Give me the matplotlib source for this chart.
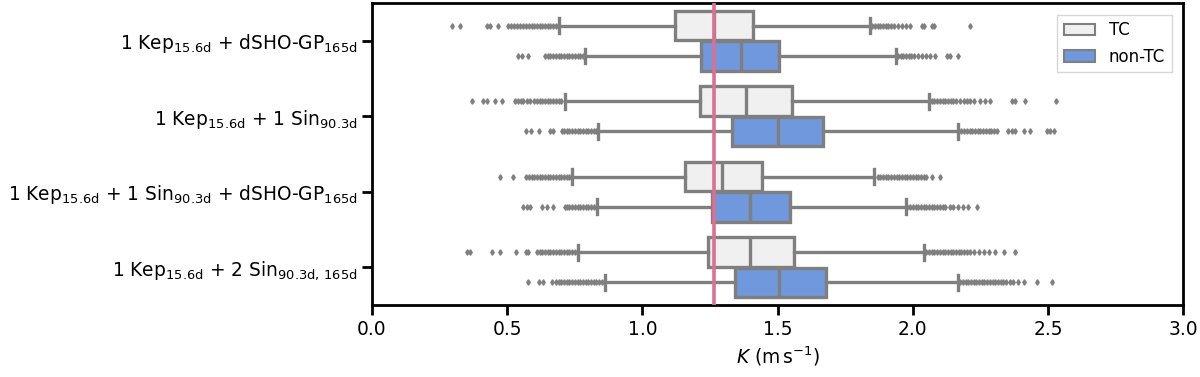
import numpy as np
import matplotlib.pyplot as plt
from matplotlib.patches import Patch

plt.rcParams['font.family'] = ['DejaVu Sans']
plt.rcParams['mathtext.fontset'] = 'dejavusans'

models = [
    r"1 Kep$_{\rm 15.6d}$ + dSHO-GP$_{\rm 165d}$",
    r"1 Kep$_{\rm 15.6d}$ + 1 Sin$_{\rm 90.3d}$",
    r"1 Kep$_{\rm 15.6d}$ + 1 Sin$_{\rm 90.3d}$ + dSHO-GP$_{\rm 165d}$",
    r"1 Kep$_{\rm 15.6d}$ + 2 Sin$_{\rm 90.3d,\,165d}$",
]
groups = ["TC", "non-TC"]

# box stats: [whislo, q1, med, q3, whishi]
tc_stats = [
    [0.693, 1.121, 1.265, 1.410, 1.842],
    [0.714, 1.213, 1.382, 1.555, 2.061],
    [0.741, 1.158, 1.294, 1.442, 1.857],
    [0.761, 1.241, 1.398, 1.562, 2.042],
]
ntc_stats = [
    [0.788, 1.217, 1.364, 1.507, 1.937],
    [0.835, 1.333, 1.500, 1.667, 2.169],
    [0.831, 1.259, 1.398, 1.547, 1.974],
    [0.860, 1.344, 1.505, 1.679, 2.166],
]

tc_fliers = [
    [0.295, 0.326, 0.424, 0.436, 0.467, 0.504, 0.515, 0.525, 0.535, 0.548, 0.56,
     0.57, 0.58, 0.59, 0.60, 0.61, 0.62, 0.63, 0.64, 0.65, 0.66, 0.67, 0.68,
     1.85, 1.86, 1.87, 1.88, 1.89, 1.90, 1.91, 1.92, 1.93, 1.945, 1.96, 1.975,
     1.99, 2.033, 2.042, 2.07, 2.08, 2.212],
    [0.371, 0.412, 0.424, 0.455, 0.480, 0.529, 0.54, 0.55, 0.56, 0.572, 0.585,
     0.60, 0.61, 0.62, 0.63, 0.64, 0.65, 0.66, 0.67, 0.68, 0.69, 0.70,
     2.07, 2.08, 2.09, 2.10, 2.11, 2.12, 2.13, 2.14, 2.15, 2.16, 2.175, 2.19,
     2.20, 2.212, 2.225, 2.25, 2.268, 2.287, 2.366, 2.379, 2.416, 2.529],
    [0.474, 0.523, 0.570, 0.58, 0.59, 0.60, 0.61, 0.62, 0.63, 0.64, 0.65, 0.66,
     0.67, 0.68, 0.69, 0.70, 0.71, 0.72, 0.73,
     1.87, 1.88, 1.89, 1.90, 1.91, 1.92, 1.93, 1.94, 1.95, 1.96, 1.97, 1.98,
     1.99, 2.00, 2.01, 2.02, 2.03, 2.04, 2.05, 2.07, 2.10],
    [0.350, 0.362, 0.442, 0.474, 0.531, 0.570, 0.578, 0.609, 0.62, 0.63, 0.64,
     0.65, 0.66, 0.67, 0.68, 0.69, 0.70, 0.71, 0.72, 0.73, 0.74, 0.75,
     2.05, 2.06, 2.07, 2.08, 2.09, 2.10, 2.11, 2.12, 2.13, 2.14, 2.15, 2.16,
     2.17, 2.18, 2.19, 2.20, 2.21, 2.225, 2.243, 2.262, 2.28, 2.305, 2.336, 2.377],
]
ntc_fliers = [
    [0.539, 0.554, 0.578, 0.64, 0.65, 0.66, 0.67, 0.68, 0.69, 0.70, 0.71, 0.72,
     0.73, 0.74, 0.75, 0.76, 0.77, 0.78,
     1.945, 1.955, 1.965, 1.975, 1.985, 1.995, 2.005, 2.02, 2.035, 2.05, 2.065,
     2.083, 2.125, 2.138, 2.169],
    [0.570, 0.588, 0.619, 0.659, 0.671, 0.702, 0.71, 0.72, 0.73, 0.74, 0.75,
     0.76, 0.77, 0.78, 0.79, 0.80, 0.81, 0.82, 0.83,
     2.18, 2.19, 2.20, 2.21, 2.22, 2.23, 2.24, 2.25, 2.26, 2.27, 2.28, 2.29,
     2.30, 2.311, 2.353, 2.366, 2.379, 2.41, 2.434, 2.496, 2.508, 2.521],
    [0.560, 0.572, 0.585, 0.628, 0.647, 0.671, 0.714, 0.72, 0.73, 0.74, 0.75,
     0.76, 0.77, 0.78, 0.79, 0.80, 0.81, 0.82,
     1.98, 1.99, 2.00, 2.01, 2.02, 2.03, 2.04, 2.05, 2.06, 2.07, 2.08, 2.09,
     2.10, 2.11, 2.12, 2.138, 2.15, 2.168, 2.184, 2.205, 2.236],
    [0.576, 0.616, 0.634, 0.665, 0.68, 0.69, 0.70, 0.71, 0.72, 0.73, 0.74, 0.75,
     0.76, 0.77, 0.78, 0.79, 0.80, 0.81, 0.82, 0.83, 0.84, 0.85,
     2.175, 2.185, 2.195, 2.205, 2.215, 2.225, 2.235, 2.245, 2.255, 2.265, 2.275,
     2.285, 2.295, 2.305, 2.315, 2.325, 2.335, 2.345, 2.36, 2.372, 2.39, 2.41,
     2.459, 2.515],
]

k_ref = 1.265

tc_color = "#f0f0f1"
ntc_color = "#7098dc"
line_color = "#7f7f7f"


def to_stats(rows, fliers):
    out = []
    for r, f in zip(rows, fliers):
        out.append({"whislo": r[0], "q1": r[1], "med": r[2], "q3": r[3],
                    "whishi": r[4], "fliers": f})
    return out


fig, ax = plt.subplots(figsize=(12, 3.77), dpi=100)
fig.subplots_adjust(left=0.31, right=0.986, top=0.992, bottom=0.191)

pos = np.arange(len(models))
lw = 2.4
common = dict(vert=False, widths=0.39, patch_artist=True, manage_ticks=False,
              boxprops=dict(edgecolor=line_color, linewidth=lw),
              whiskerprops=dict(color=line_color, linewidth=lw),
              capprops=dict(color=line_color, linewidth=lw),
              medianprops=dict(color=line_color, linewidth=lw),
              flierprops=dict(marker="d", markersize=2.8, markerfacecolor=line_color,
                              markeredgecolor=line_color, linestyle="none"))

b1 = ax.bxp(to_stats(tc_stats, tc_fliers), positions=pos - 0.2, **common)
b2 = ax.bxp(to_stats(ntc_stats, ntc_fliers), positions=pos + 0.2, **common)
for p in b1["boxes"]:
    p.set_facecolor(tc_color)
for p in b2["boxes"]:
    p.set_facecolor(ntc_color)

ax.axvline(k_ref, color="palevioletred", linewidth=2.6, zorder=5)

ax.set_yticks(pos)
ax.set_yticklabels(models)
ax.set_ylim(3.5, -0.5)
ax.set_xlim(0, 3.0)
ax.set_xticks(np.arange(0, 3.01, 0.5))
ax.set_xlabel(r"$K$ (m$\,$s$^{-1}$)", fontsize=13.4)
ax.tick_params(labelsize=13.4, width=2, length=7)
for s in ax.spines.values():
    s.set_linewidth(2)

handles = [Patch(facecolor=tc_color, edgecolor=line_color, linewidth=1.5, label=groups[0]),
           Patch(facecolor=ntc_color, edgecolor=line_color, linewidth=1.5, label=groups[1])]
ax.legend(handles=handles, loc="upper right", fontsize=12, fancybox=False,
          handlelength=1.9, borderaxespad=0.7)

fig.savefig("out.png")
